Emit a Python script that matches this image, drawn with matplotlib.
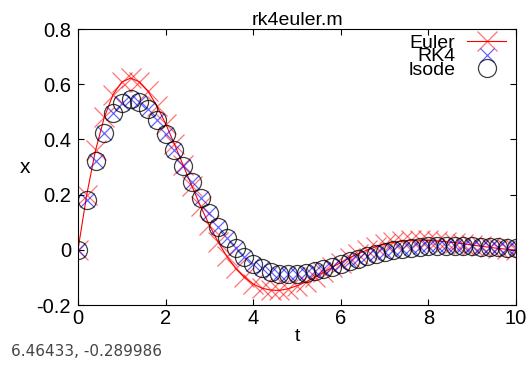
import matplotlib
matplotlib.use("Agg")
import matplotlib.pyplot as plt

# time steps (dt = 0.2)
t = [0.0, 0.2, 0.4, 0.6, 0.8, 1.0, 1.2, 1.4, 1.6, 1.8,
     2.0, 2.2, 2.4, 2.6, 2.8, 3.0, 3.2, 3.4, 3.6, 3.8,
     4.0, 4.2, 4.4, 4.6, 4.8, 5.0, 5.2, 5.4, 5.6, 5.8,
     6.0, 6.2, 6.4, 6.6, 6.8, 7.0, 7.2, 7.4, 7.6, 7.8,
     8.0, 8.2, 8.4, 8.6, 8.8, 9.0, 9.2, 9.4, 9.6, 9.8, 10.0]

euler = [0.000, 0.200, 0.360, 0.480, 0.562, 0.608, 0.622, 0.609, 0.574, 0.522,
         0.457, 0.384, 0.307, 0.231, 0.157, 0.089, 0.028, -0.024, -0.067, -0.100,
         -0.124, -0.139, -0.146, -0.147, -0.141, -0.130, -0.117, -0.100, -0.082, -0.064,
         -0.046, -0.029, -0.014, -0.001, 0.011, 0.020, 0.027, 0.031, 0.034, 0.035,
         0.034, 0.032, 0.029, 0.026, 0.022, 0.017, 0.013, 0.009, 0.005, 0.002, -0.001]

rk4 = [0.000, 0.180, 0.321, 0.425, 0.494, 0.533, 0.546, 0.537, 0.510, 0.469,
       0.419, 0.363, 0.304, 0.245, 0.187, 0.133, 0.084, 0.041, 0.005, -0.026,
       -0.050, -0.067, -0.079, -0.086, -0.089, -0.088, -0.084, -0.078, -0.070, -0.061,
       -0.051, -0.041, -0.032, -0.023, -0.015, -0.008, -0.002, 0.004, 0.008, 0.011,
       0.013, 0.014, 0.014, 0.014, 0.014, 0.013, 0.012, 0.010, 0.009, 0.007, 0.005]

lsode = [0.000, 0.180, 0.321, 0.425, 0.494, 0.533, 0.546, 0.537, 0.510, 0.469,
         0.419, 0.363, 0.304, 0.245, 0.187, 0.133, 0.084, 0.041, 0.005, -0.026,
         -0.050, -0.067, -0.079, -0.086, -0.089, -0.088, -0.084, -0.078, -0.070, -0.061,
         -0.051, -0.041, -0.032, -0.023, -0.015, -0.008, -0.002, 0.004, 0.008, 0.011,
         0.013, 0.014, 0.014, 0.014, 0.014, 0.013, 0.012, 0.010, 0.009, 0.007, 0.005]

plt.rcParams['font.family'] = ['Liberation Sans', 'DejaVu Sans']

fig = plt.figure(figsize=(5.32, 3.69), dpi=100)
ax = fig.add_axes([0.1466, 0.1734, 0.8233, 0.748])

ax.plot(t, euler, color='red', lw=0.8, marker='x', markersize=14,
        markeredgewidth=0.9, markeredgecolor=(1, 0, 0, 0.55), label='Euler')
ax.plot(t, rk4, linestyle='none', marker='x', markersize=10,
        markeredgewidth=0.9, markeredgecolor=(0, 0, 1, 0.6), label='RK4')
ax.plot(t, lsode, linestyle='none', marker='o', markersize=13,
        markerfacecolor='none', markeredgewidth=0.9,
        markeredgecolor=(0, 0, 0, 0.75), label='lsode')

ax.set_xlim(0, 10)
ax.set_ylim(-0.2, 0.8)
ax.set_xticks([0, 2, 4, 6, 8, 10])
ax.set_yticks([-0.2, 0, 0.2, 0.4, 0.6, 0.8])
ax.set_yticklabels(['-0.2', '0', '0.2', '0.4', '0.6', '0.8'])
ax.tick_params(direction='in', length=4, width=0.8, labelsize=14.5,
               top=True, right=True, pad=5)
ax.tick_params(axis='x', pad=3)
for s in ax.spines.values():
    s.set_linewidth(0.8)

ax.set_title('rk4euler.m', fontsize=14, pad=3)
ax.set_xlabel('t', fontsize=14, labelpad=0)
ax.set_ylabel('x', fontsize=15, labelpad=8, rotation=0, va='center')

ax.legend(loc='upper right', frameon=False, markerfirst=False,
          fontsize=14, labelspacing=-0.2, handlelength=2.0,
          handletextpad=0.6, borderaxespad=0.0,
          bbox_to_anchor=(0.995, 1.01))

fig.text(0.02, 0.035, '6.46433, -0.289986', fontsize=11,
         family='DejaVu Sans', color='#444444')

fig.savefig('out.png', dpi=100)
